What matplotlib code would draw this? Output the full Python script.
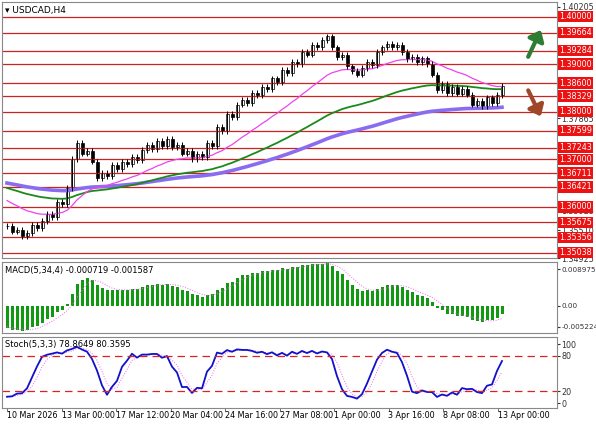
import numpy as np
import pandas as pd
import matplotlib
matplotlib.use("Agg")
import matplotlib.pyplot as plt

prior_closes = [1.3665,1.3668,1.3662,1.3660,1.3664,1.3658,1.3655,1.3650,1.3652,1.3645,
                1.3640,1.3632,1.3625,1.3615,1.3605,1.3595,1.3585,1.3575,1.3568,1.3560]
closes = [1.3560,1.3548,1.3552,1.3538,1.3545,1.3562,1.3555,1.3570,1.3585,1.3578,
          1.3610,1.3605,1.3640,1.3700,1.3735,1.3712,1.3718,1.3695,1.3660,1.3672,
          1.3665,1.3688,1.3680,1.3695,1.3690,1.3705,1.3698,1.3720,1.3730,1.3722,
          1.3738,1.3728,1.3742,1.3725,1.3730,1.3712,1.3718,1.3700,1.3712,1.3705,
          1.3735,1.3728,1.3768,1.3760,1.3795,1.3788,1.3815,1.3825,1.3818,1.3840,
          1.3835,1.3852,1.3848,1.3870,1.3862,1.3888,1.3882,1.3905,1.3900,1.3925,
          1.3920,1.3940,1.3935,1.3950,1.3958,1.3935,1.3915,1.3920,1.3895,1.3885,
          1.3878,1.3892,1.3905,1.3898,1.3925,1.3935,1.3942,1.3936,1.3940,1.3925,
          1.3910,1.3915,1.3905,1.3912,1.3900,1.3878,1.3845,1.3858,1.3840,1.3852,
          1.3838,1.3848,1.3836,1.3815,1.3822,1.3812,1.3830,1.3818,1.3835,1.3855]
levels = [1.40000,1.39664,1.39284,1.39000,1.38600,1.38329,1.38000,1.37599,1.37243,
          1.37000,1.36711,1.36421,1.36000,1.35675,1.35356,1.35038]
grey_ticks = [1.40205,1.37865,1.35925,1.35510,1.34925]
xlabels = ["10 Mar 2026","13 Mar 00:00","17 Mar 12:00","20 Mar 04:00","24 Mar 16:00",
           "27 Mar 08:00","1 Apr 00:00","3 Apr 16:00","8 Apr 08:00","13 Apr 00:00"]

allc = pd.Series(prior_closes + closes)
npr = len(prior_closes)
idx = np.arange(len(allc)) - npr
opens = allc.shift(1).fillna(allc.iloc[0])
highs = np.maximum(opens, allc) + 0.0006
lows = np.minimum(opens, allc) - 0.0006
ema_fast = allc.ewm(span=21, adjust=False).mean()
ema_mid = allc.ewm(span=55, adjust=False).mean()
ema_slow = allc.ewm(span=100, adjust=False).mean()
macd = allc.ewm(span=5, adjust=False).mean() - allc.ewm(span=34, adjust=False).mean()
sig = macd.rolling(4).mean()
hh = pd.Series(highs).rolling(5).max(); ll = pd.Series(lows).rolling(5).min()
k = ((allc - ll).rolling(3).sum() / (hh - ll).rolling(3).sum() * 100)
d = k.rolling(3).mean()

fig = plt.figure(figsize=(5.96, 4.25), dpi=100)
def ax_at(t, b):
    return fig.add_axes([2/596, 1 - b/425, 555/596, (b - t)/425])
ax = ax_at(2, 258); am = ax_at(262, 333); ast = ax_at(337, 408)
xl = (-1, 110)
for a in (ax, am, ast):
    a.set_xlim(*xl)
    a.yaxis.tick_right()
    a.tick_params(labelsize=5.8, length=2, pad=1, colors='#333333')
    a.set_xticks([])
    for s in a.spines.values(): s.set_color('#888888'); s.set_linewidth(0.8)

ax.set_ylim(1.3493, 1.40305)
for lv in levels:
    ax.axhline(lv, color='#cc2222', lw=0.9)
    ax.text(1.004, lv, f"{lv:.5f}", transform=ax.get_yaxis_transform(), fontsize=5.8,
            color='white', va='center', ha='left', zorder=10,
            bbox=dict(boxstyle='square,pad=0.15', fc='#ee1111', ec='none'), clip_on=False)
ax.set_yticks(grey_ticks); ax.set_yticklabels([f"{v:.5f}" for v in grey_ticks])
m = idx >= 0
ax.plot(idx[m], ema_slow[m], color='#8a6cf0', lw=2.6)
ax.plot(idx[m], ema_mid[m], color='#1a8a1a', lw=1.3)
ax.plot(idx[m], ema_fast[m], color='#ee44ee', lw=0.9)
for i in np.where(m)[0]:
    x = idx[i]
    ax.vlines(x, lows[i], highs[i], color='black', lw=0.7)
    o, c = opens.iloc[i], allc.iloc[i]
    ax.bar(x, max(abs(c - o), 0.00005), bottom=min(o, c), width=0.6,
           color='white' if c >= o else 'black', edgecolor='black', lw=0.5)
ax.annotate('', xy=(107, 1.3977), xytext=(104, 1.3910),
            arrowprops=dict(arrowstyle='-|>,head_width=0.5,head_length=0.6', color='#2e7d32', lw=3))
ax.annotate('', xy=(107, 1.3785), xytext=(104, 1.3850),
            arrowprops=dict(arrowstyle='-|>,head_width=0.5,head_length=0.6', color='#a0472a', lw=3))
ax.text(0.005, 0.985, "▾ USDCAD,H4", transform=ax.transAxes, fontsize=6.5, va='top')

am.bar(idx[m], macd[m], width=0.6, color='#119911')
am.plot(idx[m], sig[m], color='#ee66ee', lw=0.7, ls=':')
am.set_ylim(-0.0068, 0.0108)
am.set_yticks([0.008975, 0.0, -0.005224]); am.set_yticklabels(["0.008975", "0.00", "-0.005224"])
am.tick_params(labelsize=5.2)
am.text(0.005, 0.95, "MACD(5,34,4) -0.000719 -0.001587", transform=am.transAxes, fontsize=6, va='top')

ast.plot(idx[m], d[m], color='#ee66ee', lw=0.7, ls=':')
ast.plot(idx[m], k[m], color='#1111cc', lw=1.3)
for lv in (80, 20):
    ast.axhline(lv, color='#dd2222', lw=0.9, ls=(0, (6, 4)))
ast.set_ylim(-8, 112)
ast.set_yticks([100, 80, 20, 0])
ast.text(0.005, 0.96, "Stoch(5,3,3) 78.8649 80.3595", transform=ast.transAxes, fontsize=6, va='top')
for j, lab in enumerate(xlabels):
    x = j * 10.9
    ast.text(x, -0.04, lab, transform=ast.get_xaxis_transform(), fontsize=5.8,
             ha='left', va='top', clip_on=False)
    ast.plot([x, x], [-0.04, 0], transform=ast.get_xaxis_transform(), color='#555', lw=0.6, clip_on=False)
fig.savefig("out.png", dpi=100)
